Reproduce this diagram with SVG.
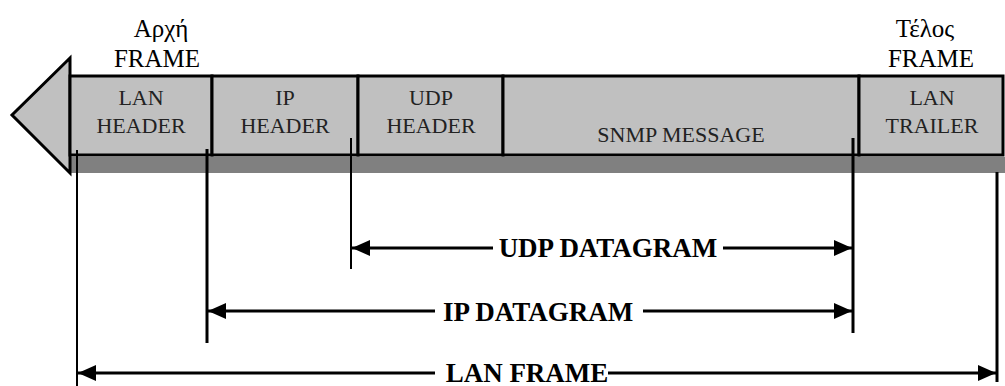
<svg xmlns="http://www.w3.org/2000/svg" width="1005" height="386" viewBox="0 0 1005 386">
<style>
.box{fill:#c0c0c0;stroke:#000;stroke-width:3}
.t{font-family:"Liberation Serif","Times New Roman",serif;font-size:22px;fill:#222;text-anchor:middle}
.top{font-family:"Liberation Serif","Times New Roman",serif;font-size:25px;fill:#000;text-anchor:middle}
.dim{font-family:"Liberation Serif","Times New Roman",serif;font-size:27px;font-weight:bold;fill:#000;text-anchor:middle}
.ext{stroke:#000;stroke-width:3;fill:none}
.ext2{stroke:#000;stroke-width:2;fill:none}
.dl{stroke:#000;stroke-width:3;fill:none;marker-end:url(#ah)}
</style>
<defs>
<marker id="ah" markerUnits="userSpaceOnUse" markerWidth="18" markerHeight="16" refX="18" refY="8" orient="auto" viewBox="0 0 18 16">
<path d="M0,0 L18,8 L0,16 z" fill="#000"/>
</marker>
</defs>
<g id="shadow">
<rect x="70" y="157" width="935" height="16" fill="#808080"/>
</g>
<g id="arrow-head">
<polygon points="70,58 12,115 70,173" fill="#c0c0c0" stroke="#000" stroke-width="3" stroke-linejoin="miter"/>
</g>
<g id="label-start">
<text class="top" x="161" y="37">Αρχή</text>
<text class="top" x="157" y="67">FRAME</text>
</g>
<g id="label-end">
<text class="top" x="925" y="37">Τέλος</text>
<text class="top" x="931" y="67">FRAME</text>
</g>
<g id="lan-header">
<rect class="box" x="70" y="76" width="142" height="79"/>
<text class="t" x="141" y="105">LAN</text>
<text class="t" x="141" y="133">HEADER</text>
</g>
<g id="ip-header">
<rect class="box" x="212" y="76" width="146" height="79"/>
<text class="t" x="285" y="105">IP</text>
<text class="t" x="285" y="133">HEADER</text>
</g>
<g id="udp-header">
<rect class="box" x="358" y="76" width="145" height="79"/>
<text class="t" x="431" y="105">UDP</text>
<text class="t" x="431" y="133">HEADER</text>
</g>
<g id="snmp-message">
<rect class="box" x="503" y="76" width="356" height="79"/>
<text class="t" x="681" y="142">SNMP MESSAGE</text>
</g>
<g id="lan-trailer">
<rect class="box" x="859" y="76" width="144" height="79"/>
<text class="t" x="932" y="105">LAN</text>
<text class="t" x="932" y="133">TRAILER</text>
</g>
<g id="connectors">
<line class="ext2" x1="77" y1="150" x2="77" y2="386"/>
<line class="ext" x1="207" y1="149" x2="207" y2="343"/>
<line class="ext2" x1="351" y1="138" x2="351" y2="269"/>
<line class="ext" x1="853" y1="138" x2="853" y2="333"/>
<line class="ext" x1="997" y1="172" x2="997" y2="382"/>
<line class="dl" x1="493" y1="248" x2="352" y2="248"/>
<line class="dl" x1="723" y1="248" x2="852" y2="248"/>
<line class="dl" x1="435" y1="311" x2="208" y2="311"/>
<line class="dl" x1="643" y1="311" x2="852" y2="311"/>
<line class="dl" x1="435" y1="373" x2="78" y2="373"/>
<line class="dl" x1="608" y1="373" x2="996" y2="373"/>
</g>
<g id="dim-labels">
<text class="dim" x="608" y="257">UDP DATAGRAM</text>
<text class="dim" x="538" y="321">IP DATAGRAM</text>
<text class="dim" x="527" y="382">LAN FRAME</text>
</g>
</svg>
